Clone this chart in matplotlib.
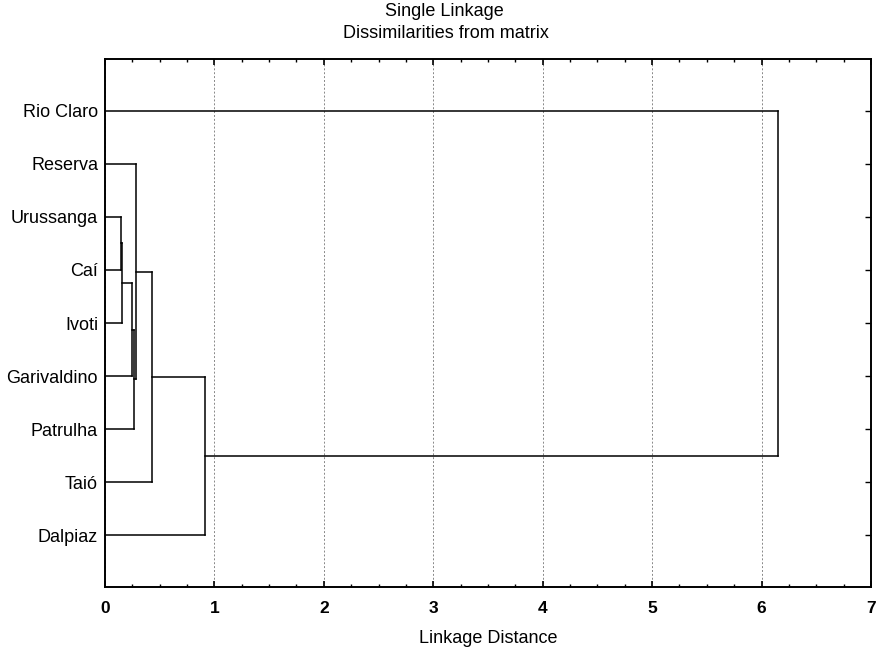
import matplotlib
matplotlib.use("Agg")
import matplotlib.pyplot as plt
from matplotlib.ticker import MultipleLocator

plt.rcParams["font.family"] = ["Liberation Sans", "DejaVu Sans"]

# leaf order, top to bottom
leaves = ["Rio Claro", "Reserva", "Urussanga", "Caí", "Ivoti",
          "Garivaldino", "Patrulha", "Taió", "Dalpiaz"]

# merges: (left member, right member, linkage distance); ints refer to earlier merges
merge_left = ["Urussanga", 0, 1, 2, "Reserva", 4, 5, "Rio Claro"]
merge_right = ["Caí", "Ivoti", "Garivaldino", "Patrulha", 3, "Taió", "Dalpiaz", 6]
merge_dist = [0.143, 0.155, 0.243, 0.262, 0.28, 0.427, 0.914, 6.15]

x_ticks = [0, 1, 2, 3, 4, 5, 6, 7]


def node_pos(node, merges_pos):
    if isinstance(node, int):
        return merges_pos[node]
    return (0.0, leaves.index(node) + 1)


def main() -> None:
    fig = plt.figure(figsize=(8.78, 6.55), dpi=100)
    ax = fig.add_axes([105 / 878, 1 - 587 / 655, 766 / 878, 528 / 655])

    merges_pos = []
    for a, b, d in zip(merge_left, merge_right, merge_dist):
        xa, ya = node_pos(a, merges_pos)
        xb, yb = node_pos(b, merges_pos)
        ax.plot([xa, d], [ya, ya], color="black", lw=1.1, solid_capstyle="projecting")
        ax.plot([xb, d], [yb, yb], color="black", lw=1.1, solid_capstyle="projecting")
        ax.plot([d, d], [ya, yb], color="black", lw=1.1, solid_capstyle="projecting")
        merges_pos.append((d, (ya + yb) / 2))

    ax.set_xlim(0, 7)
    ax.set_ylim(9.98, 0.02)
    ax.set_xticks(x_ticks)
    ax.set_xticklabels([str(t) for t in x_ticks], fontweight="bold", fontsize=12.5)
    ax.xaxis.set_minor_locator(MultipleLocator(0.25))
    ax.set_yticks(range(1, len(leaves) + 1))
    ax.set_yticklabels(leaves, fontsize=13)

    ax.tick_params(axis="x", which="major", direction="in", top=True, bottom=True,
                   length=4, width=1.2, pad=10)
    ax.tick_params(axis="x", which="minor", direction="in", top=True, bottom=True,
                   length=2.5, width=1.0)
    ax.tick_params(axis="y", direction="in", left=False, right=True,
                   length=4, width=1.0, pad=5)

    ax.grid(axis="x", which="major", color="#888888", linestyle=(0, (2, 2)), lw=0.7)
    ax.set_axisbelow(True)
    for spine in ax.spines.values():
        spine.set_linewidth(1.4)

    ax.set_xlabel("Linkage Distance", fontsize=13, labelpad=10)
    fig.text(444 / 878, 1 - 12 / 655, "Single Linkage", ha="center", va="center", fontsize=13)
    fig.text(446 / 878, 1 - 33 / 655, "Dissimilarities from matrix", ha="center",
             va="center", fontsize=13)

    fig.savefig("out.png", dpi=100)
    plt.close(fig)


if __name__ == "__main__":
    main()
